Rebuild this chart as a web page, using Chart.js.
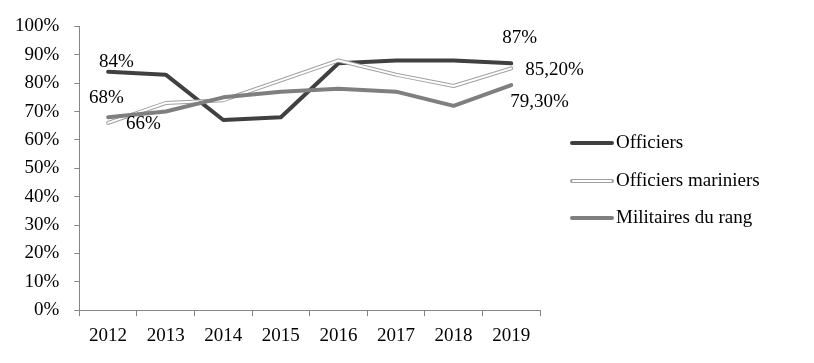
<!DOCTYPE html>
<html>
<head>
<meta charset="utf-8">
<script src="https://cdn.jsdelivr.net/npm/chart.js@4/dist/chart.umd.min.js"></script>
<style>
  html, body { margin: 0; padding: 0; background: #fff; }
  canvas { display: block; }
</style>
</head>
<body>
<canvas id="chart" width="814" height="363"></canvas>
<script>
const annees = ["2012", "2013", "2014", "2015", "2016", "2017", "2018", "2019"];
const officiers = [84, 83, 67, 68, 87, 88, 88, 87];
const officiersMariniers = [66, 73, 74, 81, 88, 83, 79, 85.2];
const militairesDuRang = [68, 70, 75, 77, 78, 77, 72, 79.3];
const ticksY = [0, 10, 20, 30, 40, 50, 60, 70, 80, 90, 100];

const FONT = "'Liberation Serif', 'Times New Roman', serif";
const AXE = "#868686";

function formatPct(v) {
    if (Number.isInteger(v)) return v + "%";
    return v.toFixed(2).replace(".", ",") + "%";
}

// étiquettes : premier et dernier point de chaque série (décalages en px)
const etiquettes = [
    { ds: 0, i: 0, dx: -9, dy: -10 },
    { ds: 1, i: 0, dx: 18, dy: 1 },
    { ds: 3, i: 0, dx: -19, dy: -19 },
    { ds: 0, i: 7, dx: -9, dy: -25 },
    { ds: 1, i: 7, dx: 14, dy: 2 },
    { ds: 3, i: 7, dx: -1, dy: 17 },
];

const pluginEtiquettes = {
    id: "etiquettes",
    afterDatasetsDraw(chart) {
        const ctx = chart.ctx;
        ctx.save();
        ctx.font = "19px " + FONT;
        ctx.fillStyle = "#000";
        ctx.textAlign = "left";
        ctx.textBaseline = "middle";
        etiquettes.forEach(e => {
            const pt = chart.getDatasetMeta(e.ds).data[e.i];
            const v = chart.data.datasets[e.ds].data[e.i];
            ctx.fillText(formatPct(v), pt.x + e.dx, pt.y + e.dy);
        });
        ctx.restore();
    }
};

// légende maison (trait double pour les officiers mariniers)
const pluginLegende = {
    id: "legende",
    afterDraw(chart) {
        const ctx = chart.ctx;
        const a = chart.chartArea;
        const x0 = a.right + 32;
        const items = [
            { label: "Officiers", color: "#404040", inner: null, y: 143 },
            { label: "Officiers mariniers", color: "#a0a0a0", inner: "#fff", y: 181 },
            { label: "Militaires du rang", color: "#7f7f7f", inner: null, y: 218 },
        ];
        ctx.save();
        ctx.lineCap = "round";
        items.forEach(it => {
            ctx.strokeStyle = it.color;
            ctx.lineWidth = 4;
            ctx.beginPath();
            ctx.moveTo(x0, it.y);
            ctx.lineTo(x0 + 40, it.y);
            ctx.stroke();
            if (it.inner) {
                ctx.strokeStyle = it.inner;
                ctx.lineWidth = 2;
                ctx.beginPath();
                ctx.moveTo(x0 + 1, it.y);
                ctx.lineTo(x0 + 39, it.y);
                ctx.stroke();
            }
            ctx.font = "19px " + FONT;
            ctx.fillStyle = "#000";
            ctx.textBaseline = "middle";
            ctx.fillText(it.label, x0 + 44, it.y);
        });
        ctx.restore();
    }
};

const commun = {
    pointRadius: 0,
    tension: 0,
    fill: false,
    borderJoinStyle: "round",
    borderCapStyle: "round",
};

new Chart(document.getElementById("chart"), {
    type: "line",
    data: {
        labels: annees,
        datasets: [
            { ...commun, label: "Officiers", data: officiers, borderColor: "#404040", borderWidth: 4, order: 4 },
            { ...commun, label: "Officiers mariniers", data: officiersMariniers, borderColor: "#a0a0a0", borderWidth: 4, order: 3 },
            { ...commun, label: "_interieur", data: officiersMariniers, borderColor: "#ffffff", borderWidth: 2, order: 2 },
            { ...commun, label: "Militaires du rang", data: militairesDuRang, borderColor: "#7f7f7f", borderWidth: 4, order: 1 },
        ]
    },
    options: {
        responsive: false,
        animation: false,
        devicePixelRatio: 1,
        layout: { padding: { left: 0, right: 274, top: 14, bottom: 8 } },
        plugins: {
            legend: { display: false },
            tooltip: { enabled: false },
        },
        scales: {
            x: {
                offset: true,
                grid: { display: true, offset: true, drawOnChartArea: false, drawTicks: true, tickLength: 6, color: AXE },
                border: { display: true, color: AXE, width: 1 },
                ticks: { color: "#000", font: { family: FONT, size: 19 }, padding: 8, maxRotation: 0 },
            },
            y: {
                min: 0,
                max: 100,
                afterBuildTicks: axis => { axis.ticks = ticksY.map(v => ({ value: v })); },
                grid: { display: true, drawOnChartArea: false, drawTicks: true, tickLength: 5, color: AXE },
                border: { display: true, color: AXE, width: 1 },
                ticks: { color: "#000", font: { family: FONT, size: 19 }, padding: 15, callback: v => v + "%" },
            }
        }
    },
    plugins: [pluginEtiquettes, pluginLegende]
});
</script>
</body>
</html>
